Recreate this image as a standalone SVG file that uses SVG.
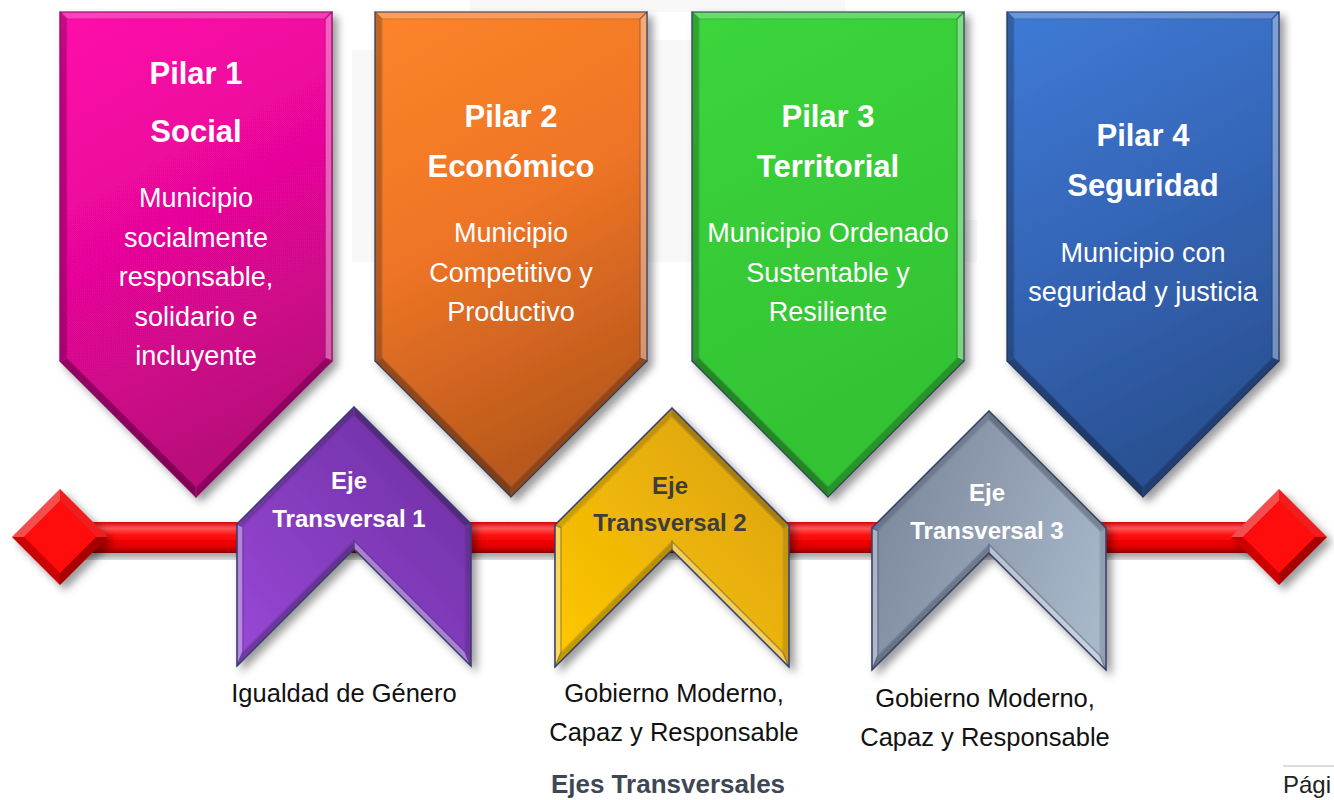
<svg xmlns="http://www.w3.org/2000/svg" xmlns:xlink="http://www.w3.org/1999/xlink" width="1334" height="800" viewBox="0 0 1334 800">
<style>
text{font-family:"Liberation Sans",Arial,sans-serif;text-anchor:middle}
.title{font-size:31px;font-weight:bold;fill:#fff}
.body{font-size:27px;fill:#fff}
.eje{font-size:24px;font-weight:bold;fill:#fff}
.ejeDark{font-size:24px;font-weight:bold;fill:#3d3d3d}
.lbl{font-size:25.5px;fill:#111}
.head{font-size:26px;font-weight:bold;fill:#3f4754}
.lt{fill:#fff}
.dk{fill:#000}
</style>
<defs>
<filter id="sh" x="-20%" y="-20%" width="140%" height="140%">
<feDropShadow dx="5" dy="5" stdDeviation="4" flood-color="#000" flood-opacity="0.4"/>
</filter>
<linearGradient id="gP1" x1="0" y1="0" x2="0.3" y2="1"><stop offset="0" stop-color="#ff0aaa"/><stop offset="0.5" stop-color="#e8069a"/><stop offset="1" stop-color="#b8087a"/></linearGradient>
<linearGradient id="gP2" x1="0" y1="0" x2="0.3" y2="1"><stop offset="0" stop-color="#fd842a"/><stop offset="0.5" stop-color="#ef7526"/><stop offset="1" stop-color="#b9581c"/></linearGradient>
<linearGradient id="gP3" x1="0" y1="0" x2="0.3" y2="1"><stop offset="0" stop-color="#3cd53c"/><stop offset="1" stop-color="#32c232"/></linearGradient>
<linearGradient id="gP4" x1="0" y1="0" x2="0.3" y2="1"><stop offset="0" stop-color="#3f7bd6"/><stop offset="0.5" stop-color="#3566b8"/><stop offset="1" stop-color="#2a5193"/></linearGradient>
<linearGradient id="gC1" x1="0" y1="1" x2="1" y2="0"><stop offset="0" stop-color="#9a48d8"/><stop offset="1" stop-color="#6a2e9e"/></linearGradient>
<linearGradient id="gC2" x1="0" y1="1" x2="1" y2="0"><stop offset="0" stop-color="#ffc800"/><stop offset="1" stop-color="#d99f10"/></linearGradient>
<linearGradient id="gC3" x1="0" y1="0.3" x2="1" y2="0.7"><stop offset="0" stop-color="#7b879b"/><stop offset="1" stop-color="#a9b7ca"/></linearGradient>
<linearGradient id="gBar" x1="0" y1="0" x2="0" y2="1"><stop offset="0" stop-color="#d80000"/><stop offset="0.2" stop-color="#ff5555"/><stop offset="0.45" stop-color="#ff0a0a"/><stop offset="0.8" stop-color="#e00000"/><stop offset="1" stop-color="#8c0000"/></linearGradient>
<g id="pilar">
<polygon points="0,0 272,0 272,349 136,485 0,349"/>
<polygon class="lt" opacity="0.22" points="0,0 272,0 265,7 7,7"/>
<polygon class="lt" opacity="0.35" points="272,0 272,349 265,346.1 265,7"/>
<polygon class="dk" opacity="0.22" points="272,349 136,485 136,475.1 265,346.1"/>
<polygon class="dk" opacity="0.3" points="136,485 0,349 7,346.1 136,475.1"/>
<polygon class="dk" opacity="0.22" points="0,349 0,0 7,7 7,346.1"/>
</g>
<g id="chev">
<polygon points="0,117 117,0 234,117 234,259 117,142 0,259"/>
<polygon class="dk" opacity="0.15" points="0,117 117,0 117,8.5 6,119.5"/>
<polygon class="dk" opacity="0.25" points="117,0 234,117 228,119.5 117,8.5"/>
<polygon class="dk" opacity="0.12" points="234,117 234,259 228,244.5 228,119.5"/>
<polygon class="lt" opacity="0.35" points="234,259 117,142 117,133.5 228,244.5"/>
<polygon class="dk" opacity="0.22" points="117,142 0,259 6,244.5 117,133.5"/>
<polygon class="lt" opacity="0.35" points="0,259 0,117 6,119.5 6,244.5"/>
</g>
<g id="diamond">
<polygon points="-48,0 0,-48 48,0 0,48" fill="#f00000"/>
<polygon class="lt" opacity="0.3" points="-48,0 0,-48 0,-36 -36,0"/>
<polygon class="lt" opacity="0.12" points="0,-48 48,0 36,0 0,-36"/>
<polygon class="dk" opacity="0.3" points="48,0 0,48 0,36 36,0"/>
<polygon class="dk" opacity="0.15" points="0,48 -48,0 -36,0 0,36"/>
<polygon points="-36,0 0,-36 36,0 0,36" fill="#ff0808"/>
</g>
</defs>
<rect width="1334" height="800" fill="#fff"/>
<g id="watermark" fill="#f8f8f8">
<rect x="470" y="0" width="375" height="12"/>
<rect x="352" y="50" width="23" height="212"/>
<rect x="648" y="40" width="44" height="222"/>
<rect x="965" y="220" width="12" height="42"/>
</g>

<g id="connectors">
<rect x="60" y="522" width="1219" height="31" fill="url(#gBar)" filter="url(#sh)"/>
<use xlink:href="#diamond" transform="translate(60,537)" filter="url(#sh)"/>
<use xlink:href="#diamond" transform="translate(1279,537)" filter="url(#sh)"/>
</g>

<g id="pilar1">
<use xlink:href="#pilar" transform="translate(60,12)" fill="url(#gP1)" stroke="#8a0a62" stroke-width="1.2" filter="url(#sh)"/>
<text class="title" x="196" y="84">Pilar 1</text>
<text class="title" x="196" y="142">Social</text>
<text class="body" x="196" y="207">Municipio</text>
<text class="body" x="196" y="247">socialmente</text>
<text class="body" x="196" y="286">responsable,</text>
<text class="body" x="196" y="326">solidario e</text>
<text class="body" x="196" y="365">incluyente</text>
</g>
<g id="pilar2">
<use xlink:href="#pilar" transform="translate(375,12)" fill="url(#gP2)" stroke="#2f3d60" stroke-width="1.2" filter="url(#sh)"/>
<text class="title" x="511" y="127">Pilar 2</text>
<text class="title" x="511" y="177">Económico</text>
<text class="body" x="511" y="242">Municipio</text>
<text class="body" x="511" y="282">Competitivo y</text>
<text class="body" x="511" y="321">Productivo</text>
</g>
<g id="pilar3">
<use xlink:href="#pilar" transform="translate(692,12)" fill="url(#gP3)" stroke="#2f3d60" stroke-width="1.2" filter="url(#sh)"/>
<text class="title" x="828" y="127">Pilar 3</text>
<text class="title" x="828" y="177">Territorial</text>
<text class="body" x="828" y="242">Municipio Ordenado</text>
<text class="body" x="828" y="282">Sustentable y</text>
<text class="body" x="828" y="321">Resiliente</text>
</g>
<g id="pilar4">
<use xlink:href="#pilar" transform="translate(1007,12)" fill="url(#gP4)" stroke="#24375e" stroke-width="1.2" filter="url(#sh)"/>
<text class="title" x="1143" y="146">Pilar 4</text>
<text class="title" x="1143" y="196">Seguridad</text>
<text class="body" x="1143" y="262">Municipio con</text>
<text class="body" x="1143" y="301">seguridad y justicia</text>
</g>

<g id="eje1">
<use xlink:href="#chev" transform="translate(237,407)" fill="url(#gC1)" stroke="#34406a" stroke-width="1.5" filter="url(#sh)"/>
<text class="eje" x="349" y="489">Eje</text>
<text class="eje" x="349" y="527">Transversal 1</text>
<text class="lbl" x="344" y="702">Igualdad de Género</text>
</g>
<g id="eje2">
<use xlink:href="#chev" transform="translate(555,408)" fill="url(#gC2)" stroke="#34406a" stroke-width="1.5" filter="url(#sh)"/>
<text class="ejeDark" x="670" y="494">Eje</text>
<text class="ejeDark" x="670" y="531">Transversal 2</text>
<text class="lbl" x="674" y="702">Gobierno Moderno,</text>
<text class="lbl" x="674" y="741">Capaz y Responsable</text>
</g>
<g id="eje3">
<use xlink:href="#chev" transform="translate(872,411)" fill="url(#gC3)" stroke="#34406a" stroke-width="1.5" filter="url(#sh)"/>
<text class="eje" x="987" y="501">Eje</text>
<text class="eje" x="987" y="539">Transversal 3</text>
<text class="lbl" x="985" y="707">Gobierno Moderno,</text>
<text class="lbl" x="985" y="746">Capaz y Responsable</text>
</g>

<g id="footer">
<text class="head" x="668" y="793">Ejes Transversales</text>
<line x1="1283" y1="766" x2="1334" y2="766" stroke="#d0d0d0" stroke-width="1.5"/>
<text x="1283" y="793" style="text-anchor:start;font-size:24px;fill:#222">Pági</text>
</g>
</svg>
